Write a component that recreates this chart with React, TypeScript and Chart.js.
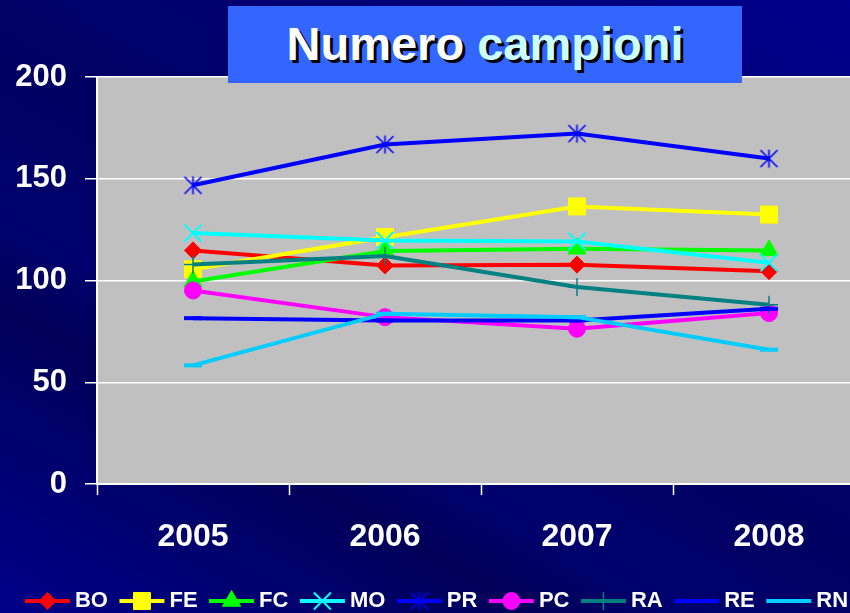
import React, { useEffect, useRef } from 'react';
import { Chart, registerables } from 'chart.js';
import { drawPoint } from 'chart.js/helpers';

Chart.register(...registerables);

const years = ['2005', '2006', '2007', '2008'];
const seriesNames = ['BO', 'FE', 'FC', 'MO', 'PR', 'PC', 'RA', 'RE', 'RN'];
const BO = [114.8, 107.4, 107.8, 104.6];
const FE = [105.5, 121.3, 136.4, 132.4];
const FC = [99.5, 114.5, 115.6, 114.8];
const MO = [123.3, 119.7, 119.2, 108.7];
const PR = [146.8, 166.8, 172.2, 159.9];
const PC = [95.1, 82.0, 76.3, 84.0];
const RA = [107.9, 112.0, 96.8, 88.1];
const RE = [81.5, 80.4, 80.4, 86.1];
const RN = [58.3, 83.7, 82.0, 66.0];
const seriesValues = [BO, FE, FC, MO, PR, PC, RA, RE, RN];
const seriesColors = ['#FF0000', '#FFFF00', '#00FF00', '#00FFFF', '#0000FF', '#FF00FF', '#008080', '#0000FF', '#00CCFF'];
const yMin = 0;
const yMax = 200;
const yStep = 50;

const FONT = '"Liberation Sans", Arial, sans-serif';

function makeStar(color: string) {
  const c = document.createElement('canvas');
  c.width = 21;
  c.height = 21;
  const g = c.getContext('2d')!;
  g.strokeStyle = color;
  g.lineWidth = 1.6;
  g.beginPath();
  g.moveTo(10.5, 1.5);
  g.lineTo(10.5, 19.5);
  g.moveTo(2, 2);
  g.lineTo(19, 19);
  g.moveTo(19, 2);
  g.lineTo(2, 19);
  g.stroke();
  return c;
}

const plotBg = {
  id: 'plotBg',
  beforeDraw(chart: any) {
    const { ctx, chartArea } = chart;
    ctx.save();
    ctx.fillStyle = '#C0C0C0';
    ctx.fillRect(chartArea.left, chartArea.top, chartArea.right - chartArea.left, chartArea.bottom - chartArea.top);
    ctx.restore();
  },
};

const legendMarkers = {
  id: 'legendMarkers',
  afterDraw(chart: any) {
    const lg = chart.legend;
    if (!lg || !lg.legendHitBoxes) return;
    const ctx = chart.ctx;
    lg.legendItems.forEach((item: any, i: number) => {
      const hb = lg.legendHitBoxes[i];
      if (!hb) return;
      const ds = chart.data.datasets[item.datasetIndex];
      const y = hb.top + hb.height / 2;
      ctx.save();
      ctx.strokeStyle = ds.borderColor;
      ctx.lineWidth = 4;
      ctx.beginPath();
      ctx.moveTo(hb.left, y);
      ctx.lineTo(hb.left + 45, y);
      ctx.stroke();
      ctx.fillStyle = ds.pointBackgroundColor;
      ctx.strokeStyle = ds.pointBorderColor;
      ctx.lineWidth = ds.pointBorderWidth;
      drawPoint(ctx, { pointStyle: ds.pointStyle, radius: ds.pointRadius, rotation: 0, borderWidth: ds.pointBorderWidth } as any, hb.left + 22.5, y);
      ctx.restore();
    });
  },
};

export default function App() {
  const ref = useRef<HTMLCanvasElement>(null);

  useEffect(() => {
    const styles: any[] = ['rectRot', 'rect', 'triangle', 'crossRot', makeStar('#0000FF'), 'circle', 'cross', 'line', 'line'];
    const radii = [8.5, 12, 10.5, 12, 10, 8.5, 9, 9, 9];
    const pbw = [1, 1, 1, 2, 1, 1, 1.5, 4, 4];
    const datasets = seriesNames.map((name, i) => ({
      label: name,
      data: seriesValues[i],
      borderColor: seriesColors[i],
      backgroundColor: seriesColors[i],
      borderWidth: 4,
      tension: 0,
      pointStyle: styles[i],
      pointRadius: radii[i],
      pointHoverRadius: radii[i],
      pointBackgroundColor: seriesColors[i],
      pointBorderColor: seriesColors[i],
      pointBorderWidth: pbw[i],
      order: seriesNames.length - 1 - i,
    }));

    const chart = new Chart(ref.current!, {
      type: 'line',
      data: { labels: years, datasets },
      plugins: [plotBg, legendMarkers],
      options: {
        animation: false,
        responsive: false,
        maintainAspectRatio: false,
        devicePixelRatio: 1,
        events: [],
        layout: { padding: { top: 77, left: 0, right: 6, bottom: 0 } },
        plugins: {
          title: { display: false },
          tooltip: { enabled: false },
          legend: {
            display: true,
            position: 'bottom',
            labels: {
              color: '#FFFFFF',
              font: { family: FONT, size: 22, weight: 'bold' },
              boxWidth: 39,
              padding: 11.5,
              sort: (a: any, b: any) => a.datasetIndex - b.datasetIndex,
              generateLabels: (chart: any) => {
                const items = Chart.defaults.plugins.legend.labels.generateLabels(chart);
                return items.map((it: any) => ({
                  ...it,
                  fillStyle: 'rgba(0,0,0,0)',
                  strokeStyle: 'rgba(0,0,0,0)',
                  lineWidth: 0,
                }));
              },
            },
          },
        },
        scales: {
          x: {
            type: 'category',
            offset: true,
            grid: {
              display: true,
              drawOnChartArea: false,
              drawTicks: true,
              tickLength: 11,
              tickColor: '#FFFFFF',
              tickWidth: 1.5,
              offset: true,
            },
            border: { display: true, color: '#FFFFFF', width: 2 },
            ticks: {
              color: '#FFFFFF',
              font: { family: FONT, size: 32, weight: 'bold' },
              padding: 23,
              maxRotation: 0,
              autoSkip: false,
            },
            afterFit: (s: any) => {
              s.height = 94.5;
            },
          },
          y: {
            min: yMin,
            max: yMax,
            grid: {
              display: true,
              color: '#FFFFFF',
              lineWidth: 1.5,
              drawTicks: true,
              tickLength: 12,
              tickColor: '#FFFFFF',
              tickWidth: 1.5,
            },
            border: { display: true, color: '#FFFFFF', width: 2 },
            ticks: {
              stepSize: yStep,
              color: '#FFFFFF',
              font: { family: FONT, size: 31, weight: 'bold' },
              padding: 18,
            },
            afterFit: (s: any) => {
              s.width = 97;
            },
          },
        },
      } as any,
    });
    return () => chart.destroy();
  }, []);

  return (
    <div
      style={{
        position: 'fixed',
        left: 0,
        top: 0,
        width: 850,
        height: 613,
        overflow: 'hidden',
        background:
          'linear-gradient(30deg, #000088 0%, #00006c 18%, #000058 28%, #00006e 36%, #000062 50%, #00006c 62%, #000078 78%, #00008c 100%)',
      }}
    >
      <canvas ref={ref} width={879} height={622} style={{ position: 'absolute', left: 0, top: 0, width: 879, height: 622 }} />
      <div
        style={{
          position: 'absolute',
          left: 228,
          top: 6,
          width: 514,
          height: 77,
          background: '#3366FF',
          textAlign: 'center',
          lineHeight: '76px',
          fontFamily: FONT,
          fontWeight: 'bold',
          fontSize: 47,
          color: '#FFFFFF',
          textShadow: '3px 3px 0 #000000',
          whiteSpace: 'nowrap',
        }}
      >
        Numero <span style={{ color: '#CCFFFF' }}>campioni</span>
      </div>
    </div>
  );
}
